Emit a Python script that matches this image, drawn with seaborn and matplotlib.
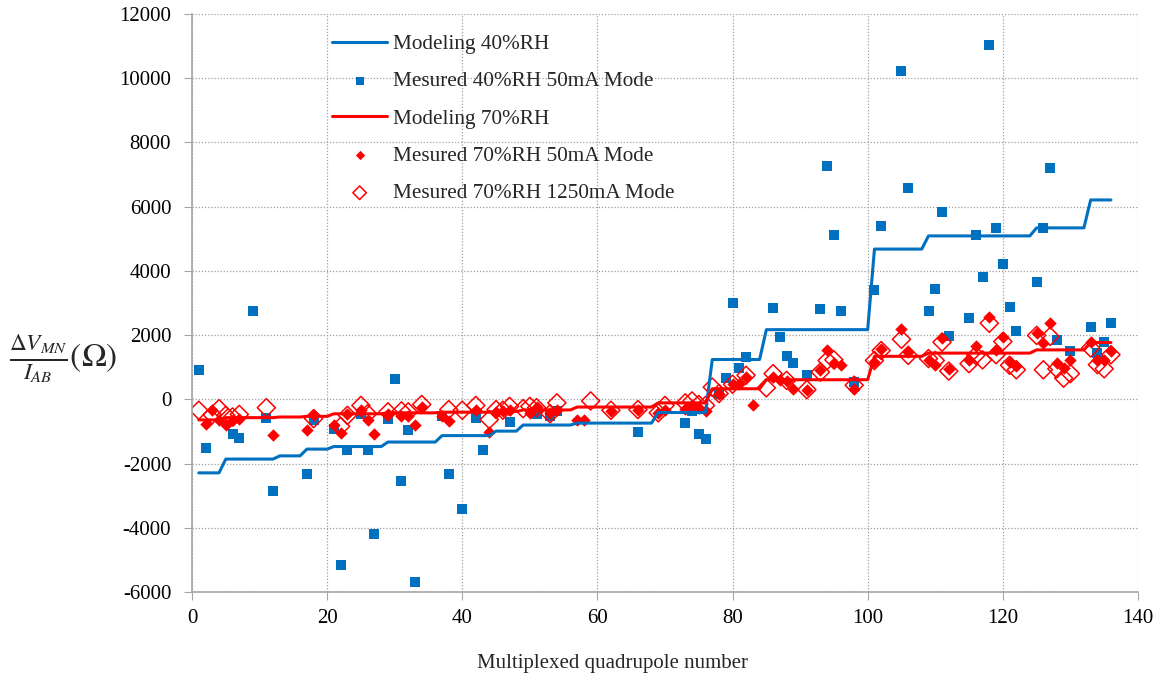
import numpy as np
import pandas as pd
import matplotlib
matplotlib.use("Agg")
import matplotlib.pyplot as plt
import seaborn as sns

# modeled resistance (step model, vertices only)
model_x = [1, 4, 5, 12, 13, 16, 17, 20, 21, 28, 29, 36, 37, 44, 45, 48, 49, 56,
           57, 68, 69, 76, 77, 84, 85, 100, 101, 108, 109, 124, 125, 132, 133, 136]
model40_y = [-2290, -2290, -1860, -1860, -1760, -1760, -1550, -1550, -1470, -1470,
             -1330, -1330, -1130, -1130, -990, -990, -800, -800, -740, -740,
             -410, -410, 1240, 1240, 2170, 2170, 4680, 4680, 5090, 5090,
             5340, 5340, 6210, 6210]
model70_y = [-640, -640, -570, -570, -550, -550, -530, -530, -450, -450,
             -420, -420, -400, -400, -380, -380, -330, -330, -240, -240,
             -110, -110, 330, 330, 610, 610, 1340, 1340, 1440, 1440,
             1540, 1540, 1770, 1770]

# measured 40%RH, 50mA
m40_x = [1, 2, 6, 7, 9, 11, 12, 17, 18, 21, 22, 23, 25, 26, 27, 29, 30, 31, 32, 33,
         37, 38, 42, 43, 40, 47, 51, 53, 54, 66, 73, 74, 75, 76, 78, 79, 80, 81, 82, 86,
         87, 88, 89, 91, 93, 94, 95, 96, 98, 101, 102, 105, 106, 109, 110, 111, 112, 115, 116, 117,
         118, 119, 120, 121, 122, 125, 126, 127, 128, 130, 133, 134, 135, 136]
m40_y = [900, -1510, -1090, -1190, 2740, -570, -2870, -2310, -650, -910,
         -5160, -1590, -450, -1570, -4180, -600, 620, -2530, -970, -5680,
         -530, -2310, -570, -1590, -3400, -710, -470, -520, -360, -1020,
         -730, -360, -1070, -1250, 170, 650, 2990, 990, 1320, 2840,
         1930, 1340, 1130, 770, 2820, 7280, 5130, 2740, 540, 3390,
         5410, 10230, 6590, 2740, 3440, 5820, 1960, 2540, 5120, 3800,
         11030, 5350, 4200, 2890, 2120, 3650, 5340, 7220, 1850, 1490,
         2240, 1450, 1800, 2370]

# measured 70%RH, 50mA
m70_x = [2, 3, 4, 5, 6, 7, 12, 17, 18, 21, 22, 23, 25, 26, 27, 29, 31, 32, 33, 34,
         37, 38, 42, 44, 45, 46, 47, 50, 51, 53, 54, 57, 58, 62, 66, 69, 70, 73, 74, 75,
         76, 78, 80, 81, 82, 83, 86, 87, 88, 89, 91, 93, 94, 95, 96, 98, 101, 102, 105, 106,
         109, 110, 111, 112, 115, 116, 118, 119, 120, 121, 122, 125, 126, 127, 128, 129, 130, 133, 134, 135,
         136]
m70_y = [-760, -340, -650, -790, -630, -600, -1120, -960, -500, -810,
         -1050, -450, -340, -650, -1090, -450, -530, -530, -790, -240,
         -530, -680, -340, -1020, -390, -360, -340, -420, -240, -420,
         -320, -650, -650, -360, -320, -420, -340, -290, -190, -260,
         -360, 180, 470, 470, 700, -190, 710, 590, 560, 330,
         300, 920, 1550, 1130, 1080, 310, 1160, 1560, 2200, 1470,
         1210, 1080, 1910, 950, 1230, 1650, 2560, 1550, 1940, 1160,
         1030, 2060, 1750, 2370, 1130, 980, 1210, 1780, 1230, 1230,
         1490]

# measured 70%RH, 1250mA
h70_x = [1, 3, 4, 5, 6, 7, 11, 18, 22, 23, 25, 26, 29, 31, 32, 34, 38, 40, 42, 44,
         45, 46, 47, 49, 50, 51, 53, 54, 59, 62, 66, 69, 70, 73, 74, 75, 76, 77, 78, 80,
         82, 85, 86, 88, 91, 93, 94, 95, 98, 101, 102, 105, 106, 109, 110, 111, 112, 115, 116, 117,
         118, 119, 120, 121, 122, 125, 126, 127, 128, 129, 130, 133, 134, 135, 136]
h70_y = [-340, -480, -290, -500, -550, -470, -260, -600, -840, -500,
         -190, -450, -390, -360, -390, -160, -320, -340, -190, -630,
         -320, -340, -220, -290, -220, -260, -450, -110, -50, -340,
         -320, -420, -190, -110, -50, -160, -190, 380, 180, 470,
         750, 360, 800, 590, 300, 850, 1210, 1230, 440, 1210,
         1520, 1870, 1370, 1270, 1210, 1780, 880, 1110, 1370, 1230,
         2370, 1390, 1800, 1060, 920, 1990, 920, 1960, 950, 660,
         800, 1600, 1080, 950, 1390]

BLUE = "#0070C0"
RED = "#FF0000"

sns.set_style("white")
plt.rcParams['font.family'] = ['Liberation Serif', 'DejaVu Serif']
plt.rcParams['mathtext.fontset'] = 'stix'
plt.rcParams['axes.unicode_minus'] = False

fig = plt.figure(figsize=(11.58, 6.81), dpi=100)
ax = fig.add_axes([0.1658, 0.1307, 0.8169, 0.8487])

sns.lineplot(x=model_x, y=model40_y, color=BLUE, lw=2.2, ax=ax, label="Modeling 40%RH")
sns.scatterplot(x=m40_x, y=m40_y, color=BLUE, marker="s", s=60, linewidth=0, ax=ax,
                label="Mesured 40%RH 50mA Mode")
sns.lineplot(x=model_x, y=model70_y, color=RED, lw=2.2, ax=ax, label="Modeling 70%RH")
sns.scatterplot(x=m70_x, y=m70_y, color=RED, marker="D", s=40, linewidth=0, ax=ax,
                label="Mesured 70%RH 50mA Mode")
sns.scatterplot(x=h70_x, y=h70_y, marker="D", s=85, facecolor="none", edgecolor=RED,
                linewidth=1.1, ax=ax, label="Mesured 70%RH 1250mA Mode")

ax.set_xlim(0, 140)
ax.set_ylim(-6000, 12000)
ax.set_xticks(np.arange(0, 141, 20))
ax.set_yticks(np.arange(-6000, 12001, 2000))
ax.grid(True, color="#a0a0a0", linestyle=(0, (1, 1.5)), linewidth=0.9)
for side in ["top", "right"]:
    ax.spines[side].set_visible(False)
for side in ["left", "bottom"]:
    ax.spines[side].set_color("#a6a6a6")
    ax.spines[side].set_linewidth(1.2)
ax.tick_params(axis="both", direction="out", length=6, color="#a6a6a6",
               labelsize=15, labelcolor="black", bottom=True, left=True)
ax.tick_params(axis="y", pad=9)
ax.tick_params(axis="x", pad=6)

ax.set_xlabel("Multiplexed quadrupole number", fontsize=15)
ax.xaxis.set_label_coords(0.444, -0.123)
ax.xaxis.label.set_va("center")
fig.text(0.008, 0.472, r"$\frac{\Delta V_{MN}}{I_{AB}}(\Omega)$", fontsize=24,
         ha="left", va="center")

handles, labels = ax.get_legend_handles_labels()
leg = ax.legend(handles, labels, loc="upper left", bbox_to_anchor=(0.148, 0.965),
                frameon=False, fontsize=15.3, labelspacing=0.82, handlelength=2.6,
                handletextpad=0.25, borderpad=0, borderaxespad=0, markerscale=0.75)

fig.savefig("out.png", dpi=100)
